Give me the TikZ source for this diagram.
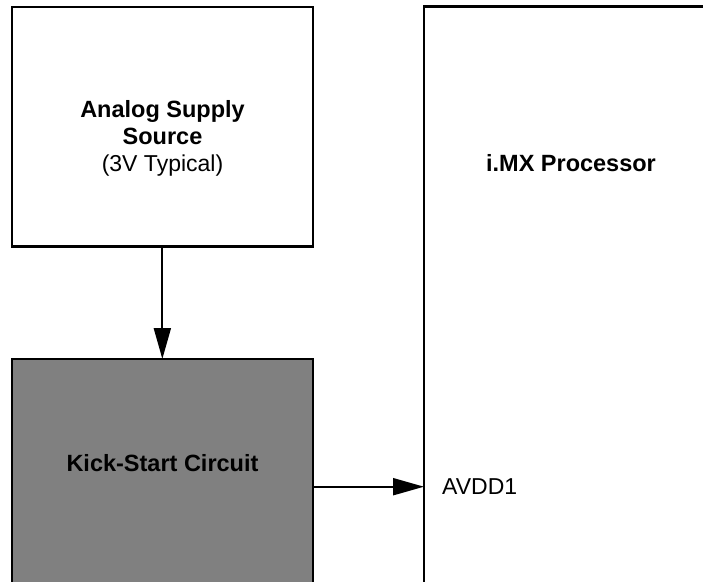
\documentclass[tikz,border=0pt]{standalone}
\usepackage{fontspec}
\setmainfont{Liberation Sans}
\usetikzlibrary{arrows.meta}
\definecolor{kickgray}{HTML}{808080}
\begin{document}
\begin{tikzpicture}[x=1pt,y=-1pt,
  blockbox/.style={draw=black, line width=2.4pt, inner sep=0pt, outer sep=0pt, anchor=north west},
  conn/.style={draw=black, line width=2pt, -{Triangle[length=31pt,width=17pt]}},
  boldlbl/.style={font=\fontsize{23.5}{27}\selectfont\bfseries, inner sep=0pt},
  reglbl/.style={font=\fontsize{23}{27}\selectfont, inner sep=0pt}]
\useasboundingbox (0,0) rectangle (703,581);
\clip (0,0) rectangle (703,581);
\node[blockbox, minimum width=300.7pt, minimum height=239.3pt] (src) at (12,7) {};
\node[blockbox, fill=kickgray, minimum width=300.7pt, minimum height=300pt] (kick) at (12,359) {};
\node[blockbox, minimum width=400pt, minimum height=700pt] (imx) at (424,6.5) {};
\node[boldlbl, anchor=base] (t1) at (162.5,117) {Analog Supply};
\node[boldlbl, anchor=base] (t2) at (162.5,144) {Source};
\node[reglbl, anchor=base] (t3) at (162.5,171) {(3V Typical)};
\node[boldlbl, anchor=base] (timx) at (571,171) {i.MX Processor};
\node[boldlbl, anchor=base] (tkick) at (162.5,471) {Kick-Start Circuit};
\coordinate (kickout) at (kick.north east |- 0,486.7);
\coordinate (imxin) at (imx.north west |- 0,486.7);
\node[reglbl, anchor=base west] (avdd) at (442,494) {AVDD1};
\draw[conn] (src.south) -- (src.south |- kick.north);
\draw[conn] (kickout) -- (imxin);
\end{tikzpicture}
\end{document}
